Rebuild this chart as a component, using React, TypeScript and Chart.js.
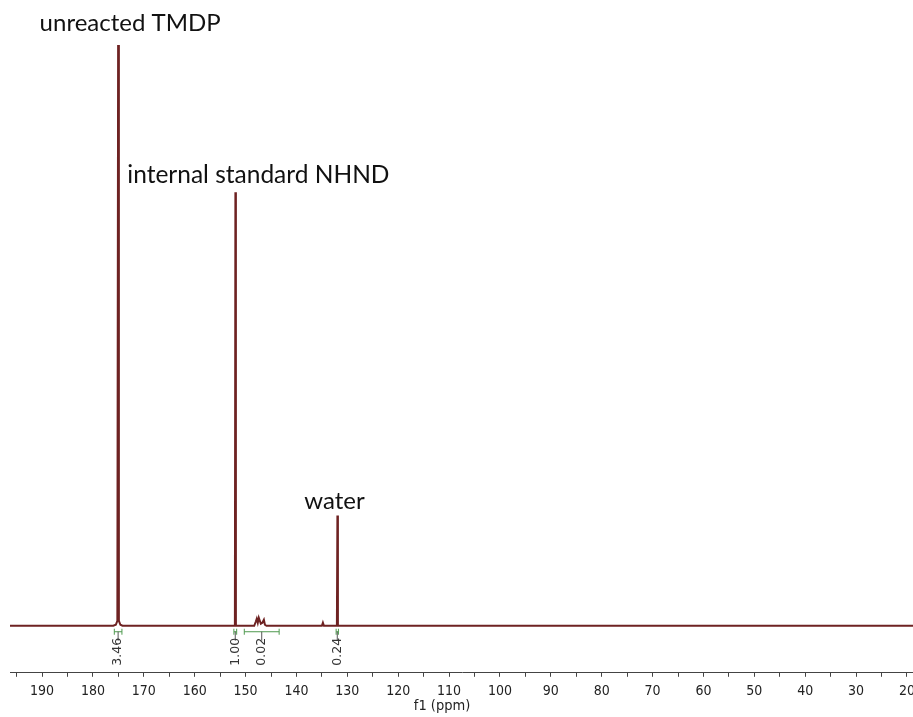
import React, { useEffect, useRef } from "react";
import { Chart, registerables } from "chart.js";

Chart.register(...registerables);

// Spectrum (chemical shift in ppm, intensity in arbitrary units)
const ppm = [
  196.3, 176.0, 175.5, 175.2, 175.05, 174.9, 174.6, 174.2,
  152.1, 152.0, 151.9,
  148.3, 148.0, 147.8, 147.6, 147.4, 147.2, 147.0, 146.7, 146.4, 146.2, 145.9,
  135.0, 134.8, 134.6,
  132.05, 131.95, 131.85,
  18.6,
];
const intensity = [
  0, 0, 1, 5, 580, 5, 1, 0,
  0, 433, 0,
  0, 4, 7, 3, 8, 5, 2, 3, 6, 1, 0,
  0, 3, 0,
  0, 110, 0,
  0,
];

// Peak annotations
const peakLabels = ["unreacted TMDP", "internal standard NHND", "water"];
const peakPpm = [175.05, 152.0, 131.95];
const peakHeights = [580, 433, 110];

// Integrals
const integralValues = ["3.46", "1.00", "0.02", "0.24"];
const integralFrom = [175.8, 152.3, 150.25, 132.2];
const integralTo = [174.3, 151.75, 143.4, 131.75];

// Axis
const xMin = 18.6;
const xMax = 196.3;
const xStep = 5;
const xTitle = "f1 (ppm)";

const AXIS_FONT = "'DejaVu Sans Condensed', 'DejaVu Sans'";

const annotatePlugin = {
  id: "annotate",
  afterDatasetsDraw(chart: any) {
    const { ctx, chartArea } = chart;
    const xs = chart.scales.x;
    const ys = chart.scales.y;
    ctx.save();
    // peak labels
    const offsets = [
      [12, 14],
      [23, 9],
      [-3, 7],
    ];
    const sizes = [24, 24.5, 24];
    ctx.fillStyle = "#111";
    ctx.textAlign = "center";
    ctx.textBaseline = "alphabetic";
    peakLabels.forEach((t, i) => {
      ctx.font = `${sizes[i]}px Lato`;
      const x = xs.getPixelForValue(peakPpm[i]) + offsets[i][0];
      const y = ys.getPixelForValue(peakHeights[i]) - offsets[i][1];
      ctx.fillText(t, x, y);
    });

    // integrals
    const base = ys.getPixelForValue(0);
    const yb = base + 6;
    integralValues.forEach((v, i) => {
      const x1 = xs.getPixelForValue(integralFrom[i]);
      const x2 = xs.getPixelForValue(integralTo[i]);
      const xc = (x1 + x2) / 2;
      ctx.strokeStyle = "#4f9a4f";
      ctx.lineWidth = 1;
      ctx.beginPath();
      ctx.moveTo(x1, yb);
      ctx.lineTo(x2, yb);
      ctx.moveTo(x1, yb - 3);
      ctx.lineTo(x1, yb + 3);
      ctx.moveTo(x2, yb - 3);
      ctx.lineTo(x2, yb + 3);
      ctx.stroke();
      ctx.strokeStyle = "#555";
      ctx.beginPath();
      ctx.moveTo(xc, yb);
      ctx.lineTo(xc, yb + 9);
      ctx.stroke();
      ctx.save();
      ctx.translate(xc, base + 26);
      ctx.rotate(-Math.PI / 2);
      ctx.font = "12.5px 'DejaVu Sans'";
      ctx.fillStyle = "#333";
      ctx.textAlign = "center";
      ctx.textBaseline = "middle";
      ctx.fillText(v, 0, 0);
      ctx.restore();
    });

    // axis title (drawn left of centre as in the original)
    ctx.font = `14.5px ${AXIS_FONT}`;
    ctx.fillStyle = "#222";
    ctx.textAlign = "center";
    ctx.textBaseline = "alphabetic";
    ctx.fillText(xTitle, (chartArea.left + chartArea.right) / 2 - 20, chartArea.bottom + 37);
    ctx.restore();
  },
};

export default function App() {
  const ref = useRef<HTMLCanvasElement | null>(null);
  useEffect(() => {
    if (!ref.current) return;
    const points = ppm.map((p, i) => ({ x: p, y: intensity[i] }));
    const chart = new Chart(ref.current, {
      type: "line",
      data: {
        datasets: [
          {
            data: points,
            borderColor: "#6e2222",
            borderWidth: 2,
            pointRadius: 0,
            tension: 0,
            fill: false,
          },
        ],
      },
      options: {
        animation: false,
        responsive: false,
        layout: { padding: { left: 10, right: 0, top: 0, bottom: 0 } },
        plugins: { legend: { display: false }, tooltip: { enabled: false } },
        scales: {
          x: {
            type: "linear",
            reverse: true,
            min: xMin,
            max: xMax,
            border: { color: "#444", width: 1 },
            grid: {
              drawOnChartArea: false,
              drawTicks: true,
              tickLength: 4,
              color: "#444",
            },
            ticks: {
              stepSize: xStep,
              includeBounds: false,
              autoSkip: false,
              maxRotation: 0,
              padding: 6,
              color: "#222",
              font: { family: AXIS_FONT, size: 14 },
              callback: (v: any) => (Number(v) % 10 === 0 ? String(v) : ""),
            },
            title: {
              display: true,
              text: xTitle,
              color: "rgba(0,0,0,0)",
              font: { family: AXIS_FONT, size: 14.5 },
              padding: { top: -8, bottom: 2 },
            },
          },
          y: {
            display: false,
            min: -47,
            max: 625,
          },
        },
      },
      plugins: [annotatePlugin],
    });
    return () => chart.destroy();
  }, []);
  return (
    <div
      style={{
        position: "fixed",
        left: 0,
        top: 0,
        width: 913,
        height: 717,
        overflow: "hidden",
        background: "#fff",
      }}
    >
      <canvas ref={ref} width={921} height={717} style={{ width: 921, height: 717, display: "block" }} />
    </div>
  );
}
